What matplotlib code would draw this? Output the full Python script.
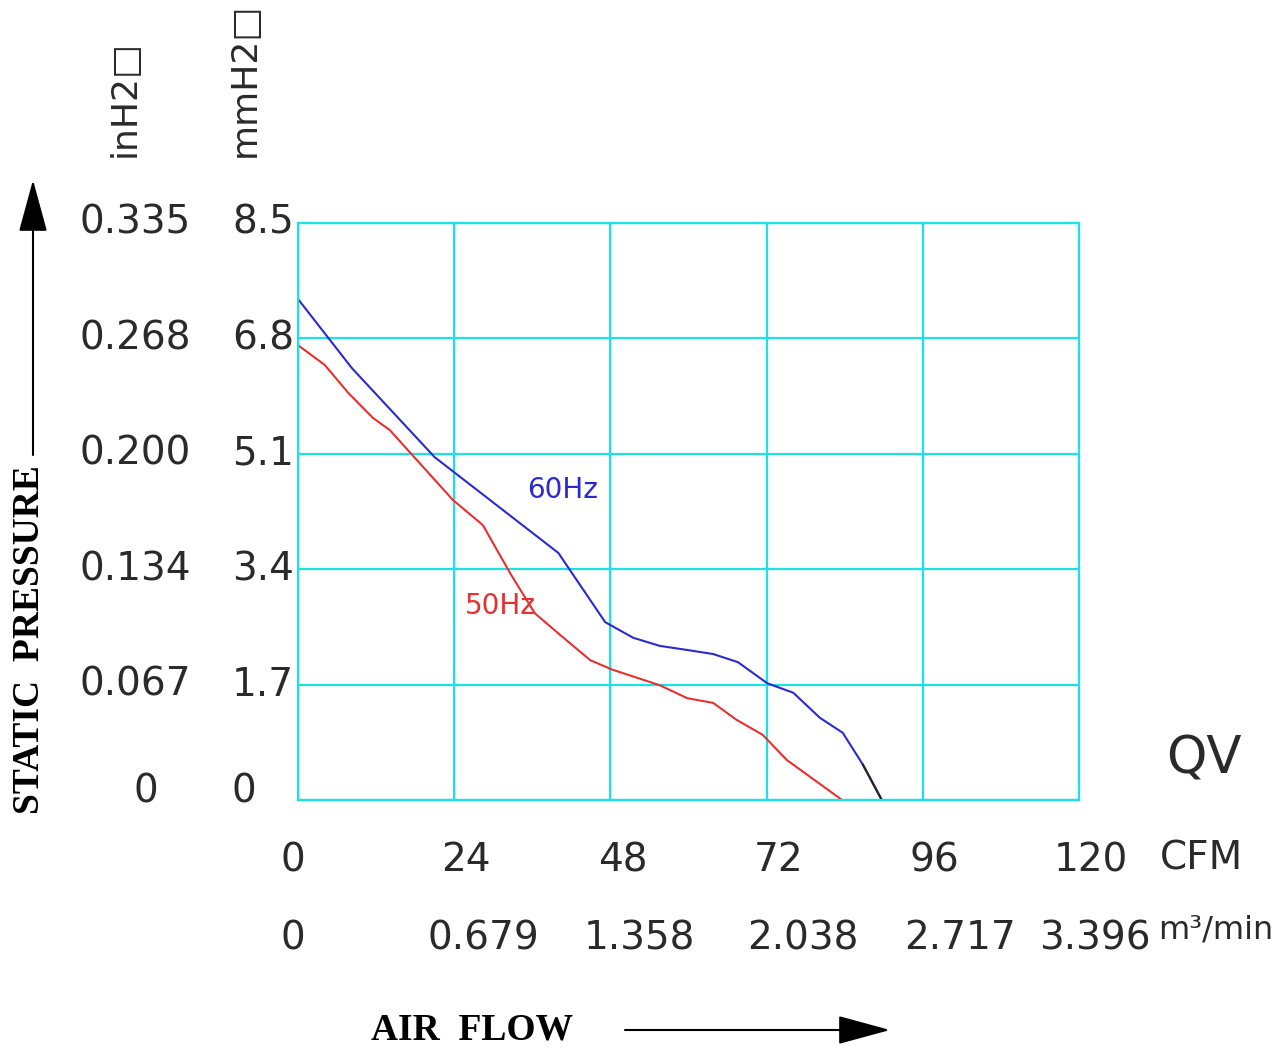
import matplotlib
matplotlib.use("Agg")
from matplotlib import pyplot as plt
from matplotlib import transforms


# Fan curve (CFM vs mmH2O).
flow_60 = [0, 8.3, 21.0, 40.0, 47.2, 51.5, 55.6, 59.8, 63.8, 67.6, 72.1, 76.1, 80.2, 83.7, 86.8, 89.7]
pres_60 = [7.38, 6.36, 5.05, 3.64, 2.62, 2.39, 2.27, 2.21, 2.15, 2.03, 1.72, 1.58, 1.21, 0.99, 0.52, 0]
flow_50 = [0, 4.1, 7.7, 11.5, 14.1, 23.8, 28.4, 32.6, 36.4, 40.3, 44.9, 48.3, 55.6, 59.8, 63.8, 67.4, 71.4, 75.1, 83.6]
pres_50 = [6.70, 6.41, 6.0, 5.63, 5.45, 4.42, 4.05, 3.34, 2.75, 2.43, 2.06, 1.92, 1.69, 1.50, 1.43, 1.18, 0.96, 0.59, 0]

cfm_ticks = [0, 24, 48, 72, 96, 120]
m3_labels = ['0', '0.679', '1.358', '2.038', '2.717', '3.396']
mm_ticks = [0, 1.7, 3.4, 5.1, 6.8, 8.5]
mm_labels = ['0', '1.7', '3.4', '5.1', '6.8', '8.5']
in_labels = ['0', '0.067', '0.134', '0.200', '0.268', '0.335']

W, H = 1281, 1048
fig = plt.figure(figsize=(W / 100, H / 100), dpi=100)
ax = fig.add_axes([298 / W, 1 - 800 / H, 781 / W, 577 / H])

grid_c = '#19e3e6'
txt_c = '#2a2a2a'
fs = 28

ax.set_xlim(0, 120)
ax.set_ylim(0, 8.5)
ax.set_xticks(cfm_ticks)
ax.set_yticks(mm_ticks)
ax.tick_params(length=0, labelbottom=False, labelleft=False)
ax.grid(True, color=grid_c, lw=1.6)
for s in ax.spines.values():
    s.set_color(grid_c)
    s.set_linewidth(1.6)

ax.plot(flow_60, pres_60, color='#2a2ad0', lw=1.5)
ax.plot(flow_60[-2:], pres_60[-2:], color='#222222', lw=1.5)
ax.plot(flow_50, pres_50, color='#e83030', lw=1.5)

ax.text(35.2, 4.57, '60Hz', color='#2a2ad0', fontsize=20, ha='left', va='center')
ax.text(25.7, 2.86, '50Hz', color='#e83030', fontsize=20, ha='left', va='center')

# y tick labels, two columns
ty = transforms.blended_transform_factory(fig.transFigure, ax.transData)
for v, lab_in, lab_mm in zip(mm_ticks, in_labels, mm_labels):
    if lab_in == '0':
        ax.text(146 / W, v + 0.12, lab_in, transform=ty, ha='center', va='center', fontsize=fs, color=txt_c)
    else:
        ax.text(80 / W, v, lab_in, transform=ty, ha='left', va='center', fontsize=fs, color=txt_c)
    off = 0.12 if v == 0 else 0
    ax.text(232 / W, v + off, lab_mm, transform=ty, ha='left', va='center', fontsize=fs, color=txt_c)

# x tick labels, two rows
tx = transforms.blended_transform_factory(ax.transData, fig.transFigure)
for i, (v, lab_m3) in enumerate(zip(cfm_ticks, m3_labels)):
    dx = -5 if i == 0 else 12
    t = transforms.offset_copy(tx, fig=fig, x=dx, y=0, units='dots')
    ax.text(v, 1 - 860 / H, str(v), transform=t, ha='center', va='center', fontsize=fs, color=txt_c)
    dx2 = -5 if i == 0 else [0, 29, 29, 36, 37, 16][i]
    t2 = transforms.offset_copy(tx, fig=fig, x=dx2, y=0, units='dots')
    ax.text(v, 1 - 938 / H, lab_m3, transform=t2, ha='center', va='center', fontsize=fs, color=txt_c)

fig.text(1160 / W, 1 - 858 / H, 'CFM', ha='left', va='center', fontsize=fs, color=txt_c)
fig.text(1158 / W, 1 - 930 / H, 'm³/min', ha='left', va='center', fontsize=23, color=txt_c)
fig.text(1204 / W, 1 - 760 / H, 'QV', ha='center', va='center', fontsize=37, color=txt_c)

fig.text(125 / W, 1 - 157 / H, 'inH2□', rotation=90, ha='center', va='bottom', fontsize=26, color=txt_c)
fig.text(245 / W, 1 - 157 / H, 'mmH2□', rotation=90, ha='center', va='bottom', fontsize=26, color=txt_c)

fig.text(30 / W, 1 - 640 / H, 'STATIC  PRESSURE', rotation=90, ha='center', va='center',
         fontsize=27, fontweight='bold', family='Liberation Serif', color='black')
fig.text(472 / W, 1 - 1030 / H, 'AIR  FLOW', ha='center', va='center',
         fontsize=27, fontweight='bold', family='Liberation Serif', color='black')

arrow = dict(arrowstyle='-|>,head_length=1.1,head_width=0.3', mutation_scale=30,
             color='black', lw=1.5, shrinkA=0, shrinkB=0)
ax.annotate('', xy=(33, H - 180), xytext=(33, H - 455), xycoords='figure pixels',
            textcoords='figure pixels', arrowprops=arrow, annotation_clip=False)
ax.annotate('', xy=(890, H - 1030), xytext=(625, H - 1030), xycoords='figure pixels',
            textcoords='figure pixels', arrowprops=arrow, annotation_clip=False)

fig.savefig('out.png', dpi=100)
